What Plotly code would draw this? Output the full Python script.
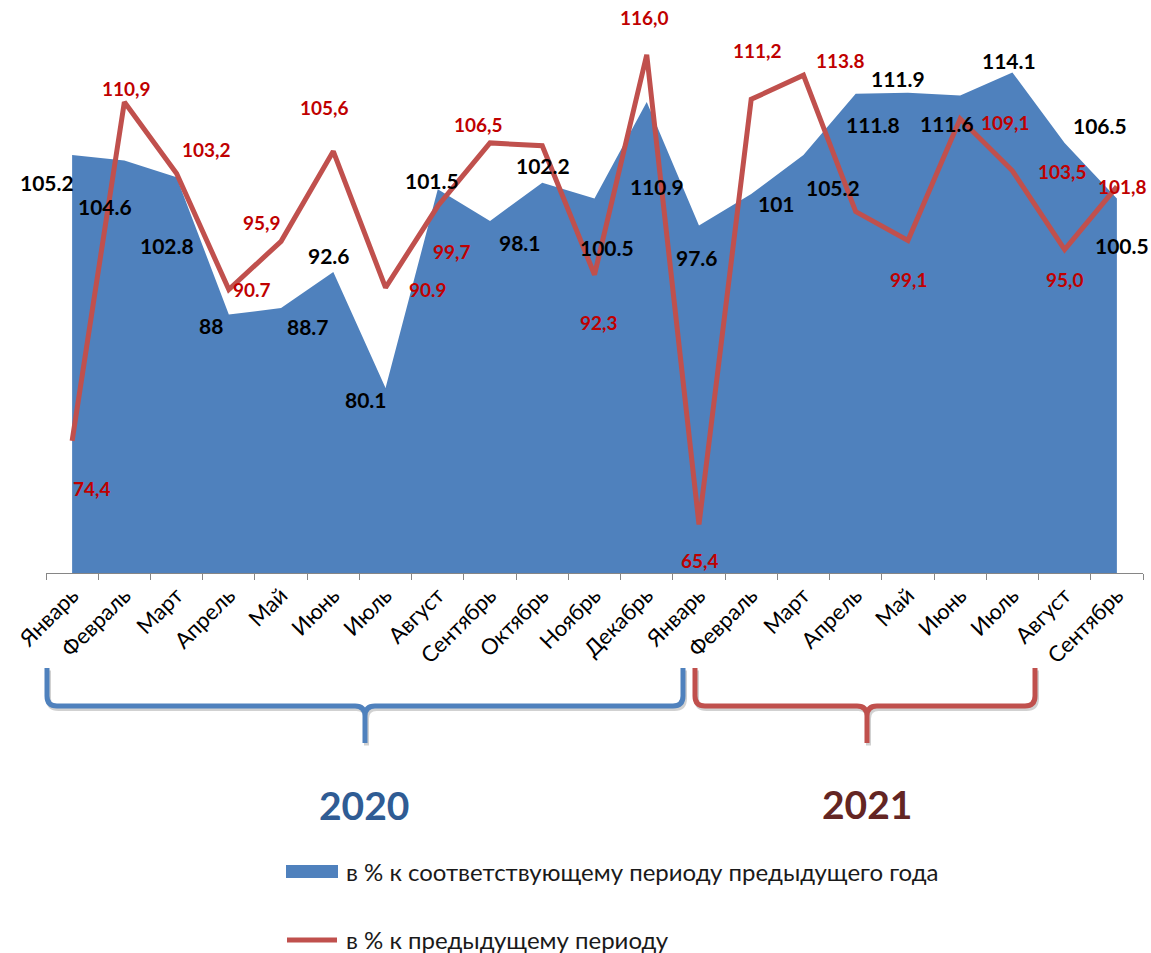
import plotly.graph_objects as go

# ---------------- data ----------------
months = ["Январь", "Февраль", "Март", "Апрель", "Май", "Июнь", "Июль", "Август",
          "Сентябрь", "Октябрь", "Ноябрь", "Декабрь",
          "Январь", "Февраль", "Март", "Апрель", "Май", "Июнь", "Июль", "Август", "Сентябрь"]
years = [2020, 2020, 2020, 2020, 2020, 2020, 2020, 2020, 2020, 2020, 2020, 2020,
         2021, 2021, 2021, 2021, 2021, 2021, 2021, 2021, 2021]

# в % к соответствующему периоду предыдущего года
yoy = [105.2, 104.6, 102.8, 88.0, 88.7, 92.6, 80.1, 101.5, 98.1, 102.2, 100.5, 110.9,
       97.6, 101.0, 105.2, 111.8, 111.9, 111.6, 114.1, 106.5, 100.5]
yoy_text = ["105.2", "104.6", "102.8", "88", "88.7", "92.6", "80.1", "101.5", "98.1", "102.2",
            "100.5", "110.9", "97.6", "101", "105.2", "111.8", "111.9", "111.6", "114.1",
            "106.5", "100.5"]

# в % к предыдущему периоду
mom = [74.4, 110.9, 103.2, 90.7, 95.9, 105.6, 90.9, 99.7, 106.5, 106.2, 92.3, 116.0,
       65.4, 111.2, 113.8, 99.1, 96.0, 109.1, 103.5, 95.0, 101.8]
mom_text = ["74,4", "110,9", "103,2", "90.7", "95,9", "105,6", "90.9", "99,7", "106,5", None,
            "92,3", "116,0", "65,4", "111,2", "113.8", "99,1", None, "109,1", "103,5",
            "95,0", "101,8"]

series_names = ["в % к соответствующему периоду предыдущего года",
                "в % к предыдущему периоду"]
year_titles = ["2020", "2021"]

# ---------------- label placement (pixel shifts) ----------------
yoy_dx = [-25, -19, -10, -18, 27, -4, -20, -6, 30, 1, 12, 10, -2, 25, 30, 17, -10, -13, -3, 35, 5]
yoy_dy = [-28, -46, -68, -11, -18, 16, -12, 9, -22, 17, -49, -84, -32, -10, -33, -31, 14, -28, 12, 17, -47]
mom_dx = [20, 2, 30, 23, -19, -9, 42, 14, -12, 0, 4, -2, 1, 6, 37, 53, 0, 45, 50, 0, 6]
mom_dy = [-48, 14, 24, 0, 19, 44, -2, -45, 18, 0, -48, 37, -36, 49, 15, -68, 0, -4, -1, -30, 0]

# ---------------- styles ----------------
BLUE = "#4F81BD"
RED = "#C0504D"
LABEL_RED = "#C00000"
FONT = "Lato"

W, H = 1151, 953
ML, MR, MT, MB = 46, 8, 0, 380
PW, PH = W - ML - MR, H - MT - MB

cats = [f"{m} {y}" for m, y in zip(months, years)]

fig = go.Figure()
fig.add_trace(go.Scatter(
    x=cats, y=yoy, mode="lines", fill="tozeroy", fillcolor=BLUE,
    line=dict(width=0, color=BLUE), name=series_names[0],
    showlegend=False, hoverinfo="skip"))
fig.add_trace(go.Scatter(
    x=cats, y=mom, mode="lines", line=dict(width=5, color=RED),
    name=series_names[1], showlegend=False, hoverinfo="skip"))

ann = []
for c, v, t, dx, dy in zip(cats, yoy, yoy_text, yoy_dx, yoy_dy):
    ann.append(dict(x=c, y=v, text=t, showarrow=False, xshift=dx, yshift=dy,
                    font=dict(family=FONT, size=21, color="#000000", weight="bold")))
for c, v, t, dx, dy in zip(cats, mom, mom_text, mom_dx, mom_dy):
    if t is None:
        continue
    ann.append(dict(x=c, y=v, text=t, showarrow=False, xshift=dx, yshift=dy,
                    font=dict(family=FONT, size=19, color=LABEL_RED, weight="bold")))


def pp(px, py):
    return (px - ML) / PW, (MT + PH - py) / PH


def brace_path(x_left, x_right, x_tip, y_top, y_bot, y_tip, off=(0, 0)):
    ox, oy = off
    r = 10
    pts = [
        ("M", [(x_left, y_top)]),
        ("L", [(x_left, y_bot - r)]),
        ("Q", [(x_left, y_bot), (x_left + r, y_bot)]),
        ("L", [(x_tip - r, y_bot)]),
        ("Q", [(x_tip, y_bot), (x_tip, y_bot + r)]),
        ("L", [(x_tip, y_tip)]),
        ("L", [(x_tip, y_bot + r)]),
        ("Q", [(x_tip, y_bot), (x_tip + r, y_bot)]),
        ("L", [(x_right - r, y_bot)]),
        ("Q", [(x_right, y_bot), (x_right, y_bot - r)]),
        ("L", [(x_right, y_top)]),
    ]
    s = ""
    for cmd, lst in pts:
        s += cmd + " ".join("%.5f,%.5f" % pp(a + ox, b + oy) for a, b in lst) + " "
    return s.strip()


braces = [(47, 683, 365, BLUE), (695, 1035, 867, RED)]
shapes = []
for xl, xr, xt, col in braces:
    shapes.append(dict(type="path", xref="paper", yref="paper", layer="below",
                       path=brace_path(xl, xr, xt, 668, 706, 743, off=(1.5, 2.5)),
                       line=dict(color="rgba(0,0,0,0.18)", width=5)))
    shapes.append(dict(type="path", xref="paper", yref="paper",
                       path=brace_path(xl, xr, xt, 668, 706, 743),
                       line=dict(color=col, width=5)))

for txt, (cx, cy), col in zip(year_titles, [(364, 805), (867, 804)], ["#2F5C94", "#632523"]):
    x0, y0 = pp(cx, cy)
    ann.append(dict(xref="paper", yref="paper", x=x0, y=y0, xanchor="center", yanchor="middle",
                    text=txt, showarrow=False,
                    font=dict(family=FONT, size=39, color=col, weight="bold")))

# ---------------- legend (swatches + real text) ----------------
bx0, by0 = pp(286, 865)
bx1, by1 = pp(338, 878)
shapes.append(dict(type="rect", xref="paper", yref="paper", x0=bx0, y0=by0, x1=bx1, y1=by1,
                   fillcolor=BLUE, line=dict(width=0)))
rx0, ry = pp(287, 940)
rx1, _ = pp(337, 940)
shapes.append(dict(type="line", xref="paper", yref="paper", x0=rx0, y0=ry, x1=rx1, y1=ry,
                   line=dict(color=RED, width=5)))
for name, (tx, ty) in zip(series_names, [(344, 871), (344, 940)]):
    x0, y0 = pp(tx, ty)
    ann.append(dict(xref="paper", yref="paper", x=x0, y=y0, xanchor="left", yanchor="middle",
                    text=name, showarrow=False,
                    font=dict(family=FONT, size=24, color="#1a1a1a")))

fig.update_layout(
    width=W, height=H,
    margin=dict(l=ML, r=MR, t=MT, b=MB),
    paper_bgcolor="white", plot_bgcolor="white",
    font=dict(family=FONT, color="#000000"),
    xaxis=dict(
        type="category", range=[-0.5, len(cats) - 0.5],
        tickmode="array", tickvals=cats, ticktext=months,
        tickson="boundaries", ticks="outside", ticklen=6, tickcolor="#868686",
        showline=True, linecolor="#868686", linewidth=1, showgrid=False,
        tickangle=-45, tickfont=dict(family=FONT, size=22, color="#000000"),
        fixedrange=True),
    yaxis=dict(range=[60.16, 121.9], visible=False, showgrid=False, fixedrange=True),
    showlegend=False,
    annotations=ann,
    shapes=shapes,
)

fig.write_html("out.html", config={"displayModeBar": False},
               post_script="document.body.style.margin='0px';")
